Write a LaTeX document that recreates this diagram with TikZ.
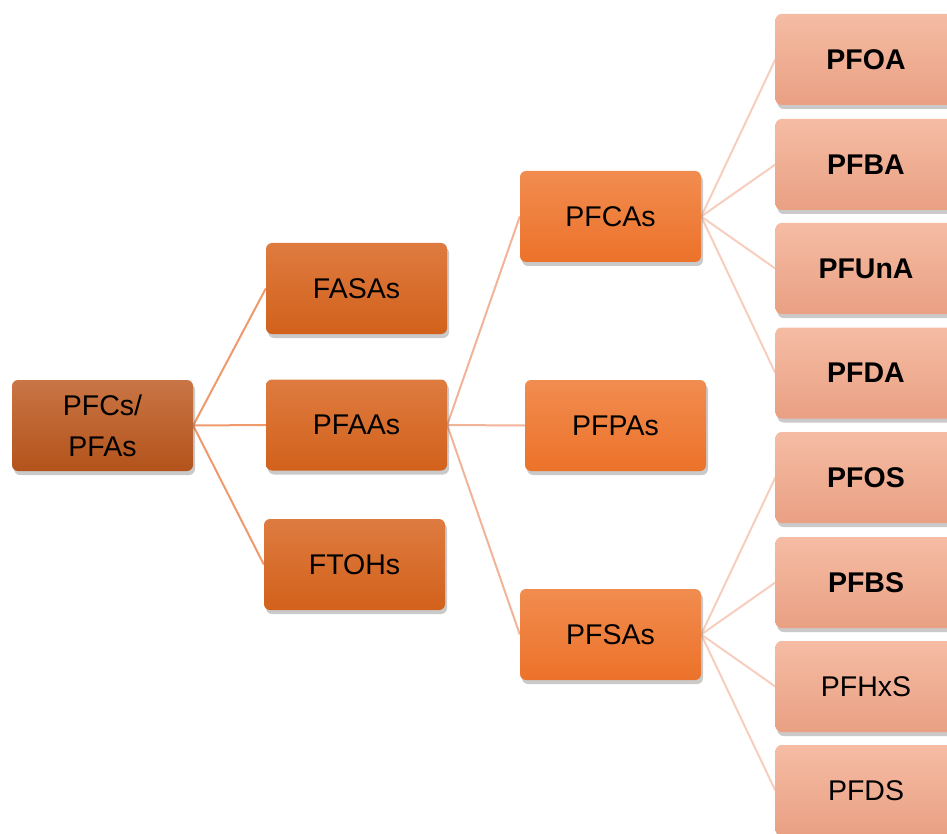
\documentclass[tikz,border=0pt]{standalone}
\usepackage{fontspec}
\setmainfont{Liberation Sans}
\usepackage{tikz}
\usetikzlibrary{shadows, backgrounds}

\definecolor{rootTop}{HTML}{C97545}
\definecolor{rootBot}{HTML}{B3531B}
\definecolor{midTop}{HTML}{DE7B40}
\definecolor{midBot}{HTML}{D2611B}
\definecolor{subTop}{HTML}{F18C50}
\definecolor{subBot}{HTML}{EC7229}
\definecolor{leafTop}{HTML}{F5BCA4}
\definecolor{leafBot}{HTML}{E9A083}
\definecolor{linkA}{HTML}{EE9A6C}
\definecolor{linkB}{HTML}{F2B398}
\definecolor{linkC}{HTML}{F6CEBD}

\tikzset{
  box/.style={rectangle, rounded corners=6pt, minimum width=181pt, minimum height=91pt,
    align=center, text=black, font=\fontsize{28.5}{41}\selectfont,
    drop shadow={shadow xshift=2pt, shadow yshift=-4pt, opacity=0.35, fill=black!60}},
  rootbox/.style={box, top color=rootTop, bottom color=rootBot},
  midbox/.style={box, top color=midTop, bottom color=midBot},
  subbox/.style={box, top color=subTop, bottom color=subBot},
  leafbox/.style={box, top color=leafTop, bottom color=leafBot},
  link/.style={line width=2pt}
}

\begin{document}
\begin{tikzpicture}[x=1pt, y=-1pt]
  \useasboundingbox (0,0) rectangle (947,834);
  \clip (0,0) rectangle (947,834);

  % tree levels
  \node[rootbox] (pfc) at (102.5,425.5) {PFCs/\\PFAs};
  \node[midbox] (fasas) at (356.5,288.5) {FASAs};
  \node[midbox] (pfaas) at (356.5,425) {PFAAs};
  \node[midbox] (ftohs) at (354.5,564.5) {FTOHs};
  \node[subbox] (pfcas) at (610.5,216.5) {PFCAs};
  \node[subbox] (pfpas) at (615.5,425.5) {PFPAs};
  \node[subbox] (pfsas) at (610.5,634.5) {PFSAs};

  % leaves
  \foreach \name/\txt/\y in {pfoa/\textbf{PFOA}/59.5, pfba/\textbf{PFBA}/164.5,
      pfuna/\textbf{PFUnA}/268.5, pfda/\textbf{PFDA}/373, pfos/\textbf{PFOS}/477.5,
      pfbs/\textbf{PFBS}/582.5, pfhxs/PFHxS/686.5, pfds/PFDS/790.5}
    \node[leafbox] (\name) at (866,\y) {\txt};

  \begin{scope}[on background layer]
    \foreach \c in {fasas, pfaas, ftohs}
      \draw[link, linkA] (pfc.east) -- (\c.west);
    \foreach \c in {pfcas, pfpas, pfsas}
      \draw[link, linkB] (pfaas.east) -- (\c.west);
    \foreach \c in {pfoa, pfba, pfuna, pfda}
      \draw[link, linkC] (pfcas.east) -- (\c.west);
    \foreach \c in {pfos, pfbs, pfhxs, pfds}
      \draw[link, linkC] (pfsas.east) -- (\c.west);
  \end{scope}
\end{tikzpicture}
\end{document}
